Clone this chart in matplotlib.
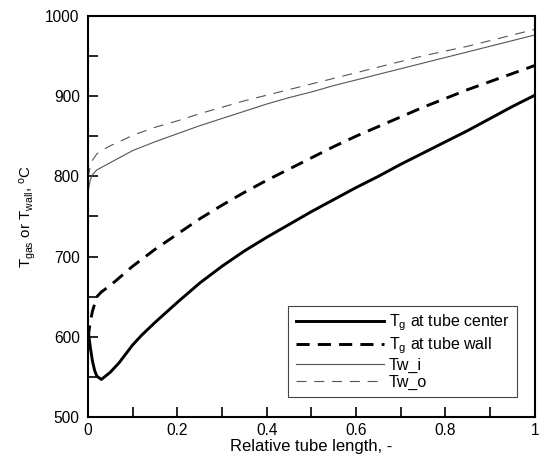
import numpy as np
import matplotlib
matplotlib.use("Agg")
import matplotlib.pyplot as plt
from matplotlib.ticker import MultipleLocator

plt.rcParams["font.family"] = ["Liberation Sans", "DejaVu Sans"]
plt.rcParams["mathtext.fontset"] = "custom"
plt.rcParams["mathtext.rm"] = "Liberation Sans"
plt.rcParams["mathtext.it"] = "Liberation Sans"

# ── Temperature profiles along the tube ──────────────────────────────────────
x_tg_c = [0.0, 0.005, 0.01, 0.015, 0.02, 0.03, 0.05, 0.07, 0.1, 0.12, 0.15,
          0.2, 0.25, 0.3, 0.35, 0.4, 0.45, 0.5, 0.55, 0.6, 0.65, 0.7, 0.75,
          0.8, 0.85, 0.9, 0.95, 1.0]
tg_center = [610, 588, 570, 558, 551, 547, 556, 568, 590, 602, 618,
             643, 667, 688, 707, 724, 740, 756, 771, 786, 800, 815, 829,
             843, 857, 872, 887, 901]

x_tg_w = [0.0, 0.005, 0.01, 0.02, 0.03, 0.05, 0.1, 0.15, 0.2, 0.25, 0.3,
          0.35, 0.4, 0.45, 0.5, 0.55, 0.6, 0.65, 0.7, 0.75, 0.8, 0.85,
          0.9, 0.95, 1.0]
tg_wall = [598, 618, 632, 650, 656, 664, 688, 709, 728, 747, 764,
           780, 795, 809, 823, 837, 850, 862, 874, 886, 897, 908,
           918, 928, 938]

x_tw = [0.0, 0.005, 0.01, 0.02, 0.03, 0.05, 0.07, 0.1, 0.15, 0.2, 0.25,
        0.3, 0.35, 0.4, 0.45, 0.5, 0.55, 0.6, 0.65, 0.7, 0.75, 0.8, 0.85,
        0.9, 0.95, 1.0]
tw_i = [780, 795, 802, 808, 811, 817, 823, 832, 843, 853, 863,
        872, 881, 890, 898, 905, 913, 920, 927, 934, 941, 948, 955,
        962, 969, 976]
tw_o = [798, 812, 820, 828, 832, 838, 843, 851, 861, 869, 878,
        886, 894, 901, 908, 915, 922, 929, 936, 943, 950, 956, 962,
        969, 976, 983]

fig = plt.figure(figsize=(5.43, 4.62), dpi=100)
ax = fig.add_axes([0.162, 0.097, 0.823, 0.869])

ax.plot(x_tg_c, tg_center, color="black", lw=2.1, label=r"T$_g$ at tube center")
ax.plot(x_tg_w, tg_wall, color="black", lw=2.1, ls=(0, (4.5, 2.8)),
        label=r"T$_g$ at tube wall")
ax.plot(x_tw, tw_i, color="#555555", lw=0.8, label="Tw_i")
ax.plot(x_tw, tw_o, color="#555555", lw=0.8, ls=(0, (9, 7)), label="Tw_o")

ax.set_xlim(0, 1)
ax.set_ylim(500, 1000)
ax.xaxis.set_major_locator(MultipleLocator(0.2))
ax.xaxis.set_minor_locator(MultipleLocator(0.1))
ax.yaxis.set_major_locator(MultipleLocator(100))
ax.yaxis.set_minor_locator(MultipleLocator(50))
ax.xaxis.set_major_formatter(plt.FuncFormatter(lambda v, p: f"{v:g}"))
ax.tick_params(which="both", direction="in", length=7.5, width=1.2,
               top=False, right=False, labelsize=11.2, pad=6)
ax.tick_params(axis="x", pad=4)
for s in ax.spines.values():
    s.set_linewidth(1.5)

ax.set_xlabel("Relative tube length, -", fontsize=12, labelpad=1)
ax.set_ylabel(r"T$_{gas}$ or T$_{wall}$, $^{o}$C", fontsize=10.8, labelpad=5)

leg = ax.legend(loc="lower right", bbox_to_anchor=(0.978, 0.03),
                handlelength=5.5, fontsize=11.5, fancybox=False,
                framealpha=1, edgecolor="#444444", borderpad=0.45,
                labelspacing=0.12, handletextpad=0.35)
leg.get_frame().set_linewidth(0.8)

fig.savefig("out.png", dpi=100)
